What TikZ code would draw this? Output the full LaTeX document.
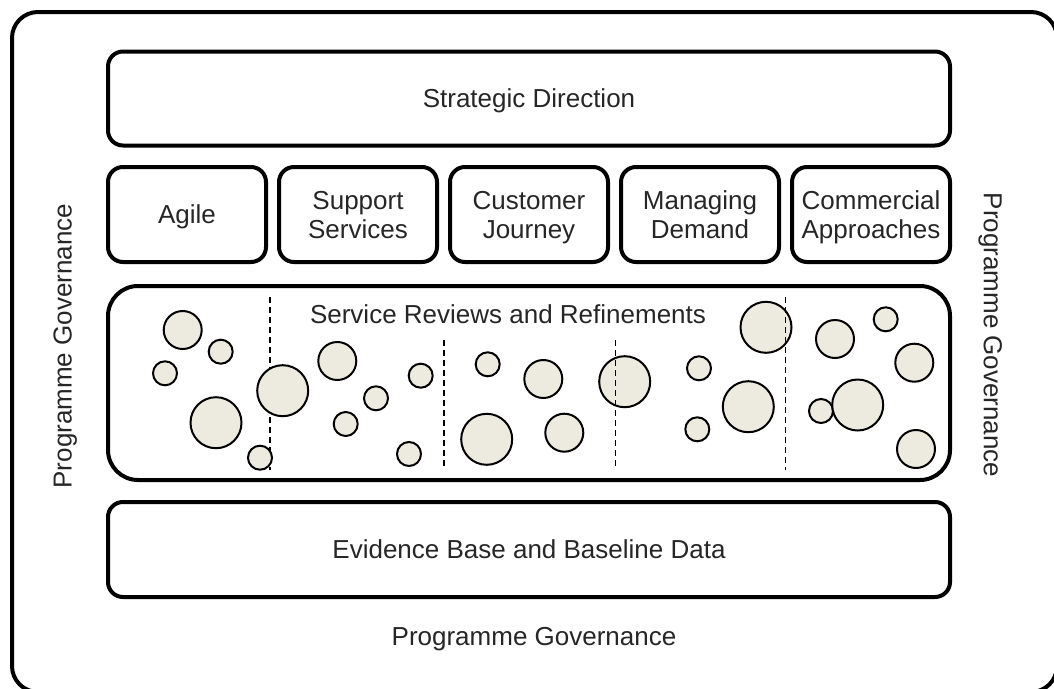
\documentclass[tikz,border=0pt]{standalone}
\usepackage{fontspec}
\setmainfont{Liberation Sans}
\definecolor{bubble}{RGB}{237,235,224}
\newcommand\nd[1]{\raisebox{0pt}[\height][0pt]{#1}}
\begin{document}
\begin{tikzpicture}[x=1pt,y=-1pt,
  every node/.style={font=\fontsize{26}{29}\selectfont, text=black!85},
  box/.style={draw, line width=4pt, rounded corners=15pt, inner sep=0pt, align=center},
  bub/.style={draw, circle, fill=bubble, line width=2pt, inner sep=0pt},
  sep/.style={dashed, dash pattern=on 6pt off 4pt, line width=1.5pt}]
\useasboundingbox (0,0) rectangle (1054,688);
% outer frame (extends beyond the picture at right and bottom)
\begin{scope}
\clip (0,0) rectangle (1054,688);
\draw[line width=4pt, rounded corners=26pt] (12,12) rectangle (1057,692);
\end{scope}
% main boxes
\node[box, minimum width=842pt, minimum height=94pt] (strat) at (529,98.5) {\nd{Strategic Direction}};
\node[box, minimum width=158pt, minimum height=95pt] (agile) at (187,214.5) {\nd{Agile}};
\node[box, minimum width=158pt, minimum height=95pt] (supp) at (358,214.5) {\nd{Support}\\\nd{Services}};
\node[box, minimum width=158pt, minimum height=95pt] (cust) at (529,214.5) {\nd{Customer}\\\nd{Journey}};
\node[box, minimum width=158pt, minimum height=95pt] (dem) at (700,214.5) {\nd{Managing}\\\nd{Demand}};
\node[box, minimum width=158pt, minimum height=95pt] (comm) at (871,214.5) {\nd{Commercial}\\\nd{Approaches}};
\node[box, rounded corners=30pt, minimum width=842pt, minimum height=194pt] (serv) at (529,383) {};
\node (servlbl) at (508,314) {Service Reviews and Refinements};
\node[box, minimum width=842pt, minimum height=95pt] (evid) at (529,549.5) {\nd{Evidence Base and Baseline Data}};
% governance labels
\node (govb) at (534,636.5) {\nd{Programme Governance}};
\node[rotate=90] (govl) at (62.5,346) {\nd{Programme Governance}};
\node[rotate=-90] (govr) at (993,335) {\nd{Programme Governance}};
% separators behind bubbles
\coordinate (s1t) at (270,297); \coordinate (s1b) at (270,470);
\coordinate (s2t) at (444,340); \coordinate (s2b) at (444,468);
\coordinate (s3t) at (615.7,340); \coordinate (s3b) at (615.7,468);
\coordinate (s4t) at (785.7,297); \coordinate (s4b) at (785.7,470);
\draw[sep] (s1t) -- (s1b);
\draw[sep] (s2t) -- (s2b);
% bubbles
\node[bub, minimum size=38pt] (c1) at (182.7,330) {};
\node[bub, minimum size=24pt] (c2) at (220.7,351.7) {};
\node[bub, minimum size=24pt] (c3) at (165,373.3) {};
\node[bub, minimum size=51pt] (c4) at (216,422.7) {};
\node[bub, minimum size=51pt] (c5) at (282.7,390.7) {};
\node[bub, minimum size=24pt] (c6) at (260,457.7) {};
\node[bub, minimum size=38pt] (c7) at (337.3,361) {};
\node[bub, minimum size=24pt] (c8) at (376,398.3) {};
\node[bub, minimum size=24pt] (c9) at (345.7,424) {};
\node[bub, minimum size=24pt] (c10) at (420.7,375.7) {};
\node[bub, minimum size=24pt] (c11) at (409,454) {};
\node[bub, minimum size=24pt] (c12) at (487.7,364.3) {};
\node[bub, minimum size=51pt] (c13) at (486.7,439.3) {};
\node[bub, minimum size=38pt] (c14) at (543.3,379) {};
\node[bub, minimum size=38pt] (c15) at (564.3,432.7) {};
\node[bub, minimum size=51pt] (c16) at (624.7,381.7) {};
\node[bub, minimum size=24pt] (c17) at (699,368.3) {};
\node[bub, minimum size=24pt] (c18) at (697.3,429.3) {};
\node[bub, minimum size=51pt] (c19) at (748.3,406.7) {};
\node[bub, minimum size=51pt] (c20) at (766,327.3) {};
\node[bub, minimum size=38pt] (c21) at (835,339) {};
\node[bub, minimum size=24pt] (c22) at (885.7,319.3) {};
\node[bub, minimum size=38pt] (c23) at (914.3,362.7) {};
\node[bub, minimum size=24pt] (c24) at (821,411) {};
\node[bub, minimum size=51pt] (c25) at (857.7,405) {};
\node[bub, minimum size=38pt] (c26) at (916,449) {};
% separators over bubbles
\draw[sep] (s3t) -- (s3b);
\draw[sep] (s4t) -- (s4b);
\end{tikzpicture}
\end{document}
